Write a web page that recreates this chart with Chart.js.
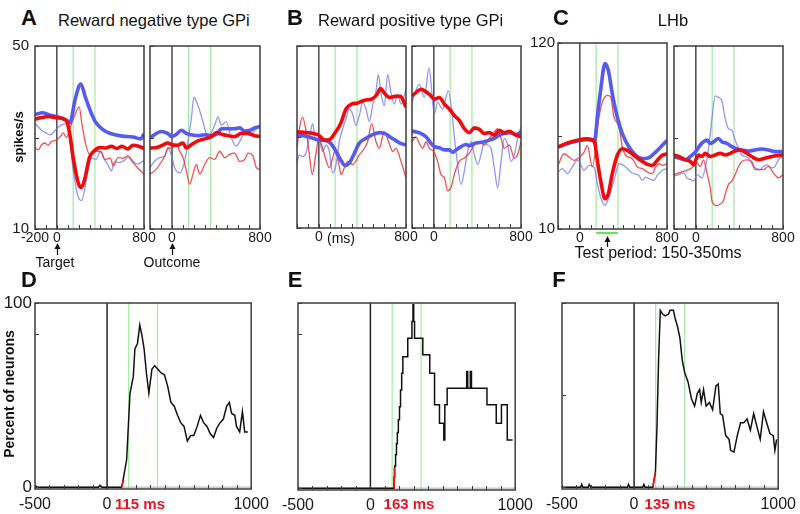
<!DOCTYPE html>
<html>
<head>
<meta charset="utf-8">
<script src="https://cdn.jsdelivr.net/npm/chart.js@4.4.0/dist/chart.umd.min.js"></script>
<style>
body{margin:0;background:#fff;width:800px;height:514px;position:relative;overflow:hidden;font-family:'Liberation Sans',Arial,sans-serif;}
canvas{position:absolute;}
.t{position:absolute;white-space:nowrap;color:#111;line-height:1;}
</style>
</head>
<body>
<script>
// time markers (ms)
const markTimes = [0, 150, 350];

// ---- A: reward negative GPi (spikes/s) ----
const a1ThickBlueT = [-200,-130,-50,0,100,120,170,220,260,300,350,400,450,500,600,700,770,800];
const a1ThickBlueV = [35.0,35.4,34.8,34.6,33.6,33.3,38.5,41.7,39.0,36.3,33.6,32.2,31.3,30.8,30.3,30.1,29.7,30.8];
const a1ThickRedT = [-200,-150,-80,0,60,90,120,150,200,225,255,300,340,400,450,500,550,600,650,700,750,800];
const a1ThickRedV = [34.0,34.3,34.6,34.3,34.1,33.6,30.6,25.6,19.8,19.1,20.8,25.6,27.0,27.8,27.7,28.1,27.6,28.1,27.5,28.3,28.1,27.6];
const a1ThinBlueT = [-200,-140,-100,-60,-20,30,80,110,150,190,225,255,290,320,360,400,430,470,500,530,570,620,660,700,740,800];
const a1ThinBlueV = [33.1,31.6,31.0,30.6,31.4,32.6,33.0,31.5,23.0,17.5,16.2,18.5,23.5,25.5,25.2,27.0,25.5,24.0,22.7,24.8,24.5,25.0,25.8,24.8,24.2,25.0];
const a1ThinRedT = [-200,-170,-140,-110,-80,-50,0,30,60,90,120,160,205,230,260,300,330,370,410,440,490,520,560,610,650,690,740,800];
const a1ThinRedV = [27.7,27.3,28.4,28.8,28.3,29.1,29.5,30.2,31.0,30.0,32.0,34.5,36.7,33.0,29.1,26.3,26.8,27.0,26.8,25.2,25.5,23.8,25.6,25.5,26.0,24.8,23.4,22.0];

const a2ThickBlueT = [-200,-160,-100,-40,0,40,85,130,175,240,300,360,405,450,510,570,615,660,710,750,800];
const a2ThickBlueV = [29.9,30.6,31.3,30.9,30.2,30.7,31.6,30.9,30.6,30.4,30.6,30.4,30.7,31.9,31.9,31.9,32.1,31.4,31.6,32.1,32.4];
const a2ThickRedT = [-200,-140,-80,-40,0,50,100,130,175,240,300,360,405,450,510,570,630,690,750,800];
const a2ThickRedV = [27.7,27.8,28.4,28.8,28.4,28.3,28.8,27.7,28.4,29.3,29.7,30.2,31.1,30.7,30.4,30.2,30.9,30.9,30.4,30.2];
const a2ThinBlueT = [-200,-158,-112,-67,-36,0,24,70,115,145,176,200,236,282,312,342,388,418,448,494,539,585,615,661,706,752,800];
const a2ThinBlueV = [23.4,24.8,25.6,25.9,27.7,25.6,23.4,22.3,24.8,29.1,34.2,38.8,37.0,33.4,30.9,30.6,32.7,34.5,32.7,33.4,29.9,28.1,29.1,30.9,30.6,31.6,32.7];
const a2ThinRedT = [-200,-158,-112,-67,-36,0,39,70,100,130,161,191,221,252,297,342,388,433,479,524,570,615,661,691,736,767,800];
const a2ThinRedV = [22.0,22.7,24.1,25.9,27.7,27.7,28.4,27.0,25.6,22.7,19.8,22.0,24.1,22.0,24.1,25.6,25.2,27.0,25.6,26.3,26.6,24.8,25.2,26.6,26.0,23.4,23.0];

// ---- B: reward positive GPi (no y labels, arbitrary 0-100) ----
const b1ThickRedT = [-200,-120,-50,0,50,95,140,200,250,300,350,420,490,535,565,610,650,700,750,800];
const b1ThickRedV = [52.8,52.4,51.9,51.0,48.3,48.5,51.5,57.3,65.4,68.1,68.6,70.2,71.0,73.5,76.6,73.5,71.7,72.3,72.3,66.3];
const b1ThickBlueT = [-200,-130,-60,0,50,110,150,200,240,280,320,370,430,490,560,620,650,700,750,800];
const b1ThickBlueV = [51.0,50.5,49.5,48.3,48.3,46.5,42.9,37.5,34.4,35.7,40.2,46.5,49.2,51.2,52.4,51.5,50.1,48.3,46.5,45.6];
const b1ThinRedT = [-200,-178,-150,-120,-90,-60,-30,0,35,65,97,127,150,188,204,234,265,310,372,418,448,485,525,555,600,640,678,708,754,800];
const b1ThinRedV = [43.8,54.6,60.9,54.6,42.0,29.4,39.3,49.2,43.8,37.5,33.0,38.4,43.0,33.9,29.4,33.0,36.6,34.8,40.2,43.8,47.4,57.3,47.4,43.8,52.8,47.4,42.0,43.8,36.6,27.6];
const b1ThinBlueT = [-200,-179,-148,-117,-87,-56,-35,-1,35,66,97,127,158,188,219,250,280,310,341,372,403,433,463,494,525,546,570,601,632,662,693,723,754,800];
const b1ThinBlueV = [35.7,40.2,39.3,41.1,49.2,57.3,49.2,49.2,42.0,45.6,42.0,30.3,34.8,47.4,54.6,60.0,65.4,62.7,56.4,61.8,69.0,65.4,58.5,67.2,75.3,84.3,74.4,67.2,84.3,74.4,68.1,73.5,68.1,76.2];

const b2ThickRedT = [-200,-164,-117,-71,-26,5,51,97,143,188,234,280,326,372,418,463,509,555,601,647,693,754,800];
const b2ThickRedV = [72.6,74.4,76.2,74.8,72.6,70.8,71.7,68.1,65.4,61.8,59.1,54.6,52.4,55.0,54.2,51.9,52.4,51.0,53.7,52.4,53.2,51.0,50.1];
const b2ThickBlueT = [-200,-164,-117,-71,-26,5,51,97,143,173,204,250,295,326,372,418,463,509,555,601,647,693,754,800];
const b2ThickBlueV = [53.2,52.8,51.9,50.1,46.5,44.7,44.1,42.9,42.9,41.6,42.9,44.7,45.9,45.2,46.5,47.0,47.4,48.3,49.2,51.0,51.9,52.4,51.4,52.8];
const b2ThinBlueT = [-200,-133,-87,-44,5,35,81,133,204,250,280,310,341,372,403,433,463,494,525,555,586,617,647,678,708,739,769,800];
const b2ThinBlueV = [69.0,78.9,71.7,87.9,62.7,69.0,65.4,75.3,42.0,24.0,31.2,42.0,47.4,40.2,34.8,40.2,47.4,45.6,43.8,33.0,22.2,36.6,49.2,45.6,36.6,40.2,49.2,55.5];
const b2ThinRedT = [-200,-164,-133,-102,-71,-41,-1,35,66,97,127,158,188,234,280,326,372,418,463,509,555,586,617,647,693,739,769,800];
const b2ThinRedV = [47.4,50.1,46.5,43.8,47.4,43.8,42.0,36.6,29.4,27.6,20.4,22.2,29.4,36.6,38.4,41.1,45.6,47.4,45.6,49.2,52.8,54.6,49.2,43.8,45.6,38.4,40.2,47.4];

// ---- C: LHb (spikes/s, 10-120) ----
const c1ThickBlueT = [-200,-130,-69,-1,70,115,139,161,191,231,262,298,344,390,451,513,574,635,696,757,800];
const c1ThickBlueV = [58.5,60.1,61.4,62.4,62.8,62.4,63.4,76.2,92.0,107.8,103.8,90.0,76.2,66.4,58.5,53.6,51.6,52.2,55.5,59.5,62.4];
const c1ThickRedT = [-200,-130,-69,-1,54,115,139,161,191,231,262,298,344,390,436,497,558,620,665,711,757,800];
const c1ThickRedV = [58.5,60.5,61.8,62.8,63.4,62.8,60.5,50.6,38.8,27.9,30.9,42.7,53.6,57.5,56.5,53.6,50.6,48.2,47.6,50.6,53.6,54.5];
const c1ThinRedT = [-200,-145,-99,-53,-1,39,69,115,176,207,253,283,314,360,390,421,482,528,574,620,665,696,727,757,800];
const c1ThinRedV = [47.6,54.5,52.6,50.6,52.6,55.5,59.5,46.7,76.2,85.1,89.0,88.1,76.2,70.3,58.5,53.6,51.6,46.7,45.7,43.7,42.7,46.7,48.6,47.6,48.6];
const c1ThinBlueT = [-200,-160,-114,-69,-23,-1,39,84,130,161,191,231,268,314,360,421,467,497,543,574,604,635,681,711,757,800];
const c1ThinBlueV = [43.7,45.7,42.7,46.7,50.6,49.6,44.7,47.6,46.7,36.8,28.9,24.0,28.9,38.8,48.6,46.7,43.7,42.7,41.7,38.8,40.7,39.8,38.8,41.7,44.7,45.7];

const c2ThickBlueT = [-200,-157,-96,-50,-1,41,71,102,132,163,209,239,285,331,377,422,483,544,605,666,727,800];
const c2ThickBlueV = [53.6,52.6,51.6,53.6,56.5,60.5,62.4,63.4,61.4,62.4,64.4,62.4,61.4,59.5,58.1,57.5,56.9,57.5,58.1,57.5,56.5,56.5];
const c2ThickRedT = [-200,-157,-96,-50,-20,1,26,56,87,132,178,224,270,316,361,407,453,514,575,636,697,758,800];
const c2ThickRedV = [54.5,53.6,51.6,50.6,48.6,51.6,54.5,53.6,55.5,53.6,54.5,55.5,54.5,55.5,56.9,57.5,56.1,53.6,51.6,52.6,53.6,54.2,54.5];
const c2ThinBlueT = [-200,-157,-111,-81,-50,-20,11,56,87,117,148,178,209,239,270,300,331,361,392,422,453,483,529,590,620,651,697,727,758,800];
const c2ThinBlueV = [41.7,42.7,43.7,40.7,39.8,38.8,42.7,40.7,46.7,58.5,76.2,90.0,89.0,87.1,76.2,70.3,69.3,63.4,58.5,54.5,53.6,52.6,47.6,45.7,47.6,48.6,46.7,47.6,51.6,53.6];
const c2ThinRedT = [-200,-157,-111,-66,-20,11,41,71,102,132,148,163,193,224,254,270,300,331,361,392,422,468,514,544,590,620,666,712,758,800];
const c2ThinRedV = [42.7,43.7,44.7,45.7,47.6,49.6,47.6,51.6,43.7,34.8,27.0,25.0,24.0,25.0,27.0,30.9,36.8,38.8,42.7,47.6,50.6,51.6,50.6,45.7,45.7,45.7,47.6,43.7,40.7,42.7];

// ---- D-F: percent of neurons ----
const dT = [-500,-485,-60,-50,-35,100,107,136,159,182,193,211,227,243,257,273,290,311,330,352,375,398,420,443,466,489,511,534,557,580,602,625,648,670,693,716,739,761,784,807,830,848,864,886,898,920,939,955,977];
const dV = [1,0,0,1,0,0,2,15,51,60,75,78,88,82,75,62,51,64,66,64,62,61,55,46,44,39,35,33,25,28,28,33,39,35,33,29,27,32,35,37,44,46,40,39,33,30,41,30,30];
const dOnsetT = [100, 115];
const dOnsetV = [0, 4];

const eT = [-500,163,168,174,180,186,193,201,208,216,224,258,287,294,299,305,362,410,443,477,507,514,530,665,672,690,698,805,869,905,945,982];
const eV = [0,6,12,18,24,30,37,44,53,62,71,81,90,99,90,81,72,62,45,35,26,45,54,63,54,63,54,45,35,45,26,26];
const eOnsetT = [163, 165];
const eOnsetV = [0, 11];

const fT = [-500,-370,-364,-355,-318,-311,-300,-45,-39,-30,60,68,76,130,148,159,170,182,198,216,239,250,273,284,302,318,334,352,375,398,420,439,455,466,482,500,523,545,568,584,598,614,636,659,670,693,716,739,761,784,807,830,852,875,898,920,943,966,977,989];
const fV = [0,0,1.5,0,0,1.5,0,0,1.5,0,0,1.5,0,0,8,33,69,96,94,93,94,96,96,92,87,81,69,62,57,48,44,51,53,46,53,44,46,42,55,56,40,39,28,26,20,19,28,35,35,37,31,40,33,26,41,35,29,28,20,26];
const fOnsetT = [130, 148];
const fOnsetV = [0, 8];

const FONT = "'Liberation Sans', Arial, sans-serif";
const THICK_BLUE = 'rgb(85,90,240)';
const THIN_BLUE = 'rgba(110,115,245,0.75)';
const THICK_RED = 'rgb(240,10,10)';
const THIN_RED = 'rgba(238,50,50,0.85)';
const GREEN = 'rgb(165,232,165)';

const pts = (t, v) => t.map((x, i) => ({x, y: v[i]}));
const curve = (t, v, color, w) => ({data: pts(t, v), borderColor: color, borderWidth: w, pointRadius: 0,
  cubicInterpolationMode: 'monotone', fill: false});
const step = (t, v, color, w, stepped) => ({data: pts(t, v), borderColor: color, borderWidth: w, pointRadius: 0,
  tension: 0, stepped: stepped, fill: false});
const vline = (x, lo, hi, color, w) => ({data: [{x, y: lo}, {x, y: hi}], borderColor: color, borderWidth: w, pointRadius: 0});

// box frame, inward ticks, arrows and test bar
const frame = {
  id: 'frame',
  afterDatasetsDraw(chart, args, o) {
    const {ctx, chartArea: a, scales: {x, y}} = chart;
    ctx.save();
    ctx.strokeStyle = '#3c3c3c';
    ctx.lineWidth = 1.5;
    ctx.strokeRect(a.left, a.top, a.right - a.left, a.bottom - a.top);
    ctx.lineWidth = 1;
    ctx.beginPath();
    x.ticks.forEach(t => {
      const px = Math.round(x.getPixelForValue(t.value)) + 0.5;
      ctx.moveTo(px, a.bottom); ctx.lineTo(px, a.bottom - 4);
    });
    y.ticks.forEach(t => {
      const py = Math.round(y.getPixelForValue(t.value)) + 0.5;
      ctx.moveTo(a.left, py); ctx.lineTo(a.left + 4, py);
    });
    ctx.stroke();
    if (o.bar) {
      ctx.strokeStyle = 'rgb(90,235,80)';
      ctx.lineWidth = 2;
      ctx.beginPath();
      ctx.moveTo(x.getPixelForValue(o.bar[0]), a.bottom + o.barOff);
      ctx.lineTo(x.getPixelForValue(o.bar[1]), a.bottom + o.barOff);
      ctx.stroke();
    }
    if (o.arrowAt !== undefined) {
      const px = Math.round(x.getPixelForValue(o.arrowAt)) + 0.5;
      const y0 = a.bottom + o.arrowTop;
      ctx.strokeStyle = '#111';
      ctx.fillStyle = '#111';
      ctx.lineWidth = 1.2;
      ctx.beginPath();
      ctx.moveTo(px, y0 + 4); ctx.lineTo(px, y0 + o.arrowLen);
      ctx.stroke();
      ctx.beginPath();
      ctx.moveTo(px, y0); ctx.lineTo(px - 3, y0 + 6); ctx.lineTo(px + 3, y0 + 6);
      ctx.closePath();
      ctx.fill();
    }
    ctx.restore();
  }
};

function panel(box, o) {
  const PL = o.pl, PR = o.pr, PT = o.pt, PB = o.pb;
  const c = document.createElement('canvas');
  c.width = box[2] - box[0] + PL + PR;
  c.height = box[3] - box[1] + PT + PB;
  c.style.left = (box[0] - PL) + 'px';
  c.style.top = (box[1] - PT) + 'px';
  document.body.appendChild(c);
  new Chart(c, {
    type: 'line',
    data: {datasets: o.datasets},
    options: {
      responsive: false,
      animation: false,
      events: [],
      layout: {padding: {top: PT, right: PR, left: 0, bottom: 0}},
      plugins: {legend: {display: false}, tooltip: {enabled: false}, frame: o.frame || {}},
      scales: {
        x: {
          type: 'linear', min: o.xmin, max: o.xmax,
          grid: {display: false, drawTicks: false}, border: {display: false},
          afterFit: s => { s.height = PB; },
          afterBuildTicks: s => { s.ticks = o.xTicks.map(v => ({value: v})); },
          ticks: {autoSkip: false, maxRotation: 0, padding: o.xpad, color: '#1a1a1a',
            font: {family: FONT, size: o.fs},
            callback: v => o.xLabels.includes(v) ? String(v) : ''}
        },
        y: {
          type: 'linear', min: o.ymin, max: o.ymax,
          grid: {display: false, drawTicks: false}, border: {display: false},
          afterFit: s => { s.width = PL; },
          afterBuildTicks: s => { s.ticks = o.yTicks.map(v => ({value: v})); },
          ticks: {padding: o.ypad, color: '#1a1a1a', font: {family: FONT, size: o.fs + 1},
            callback: v => o.yLabels.includes(v) ? String(v) : ''}
        }
      }
    },
    plugins: [frame]
  });
}

const topTicks = [-200,-100,0,100,200,300,400,500,600,700,800];
const botTicks = [-500,-400,-300,-200,-100,0,100,200,300,400,500,600,700,800,900,1000];

function topSets(tr, tb, nr, nb, lo, hi) {
  return [
    curve(tr[0], tr[1], THICK_RED, 3.6),
    curve(tb[0], tb[1], THICK_BLUE, 3.6),
    curve(nr[0], nr[1], THIN_RED, 1.3),
    curve(nb[0], nb[1], THIN_BLUE, 1.3),
    vline(markTimes[0], lo, hi, 'rgb(85,85,85)', 1.6),
    vline(markTimes[1], lo, hi, GREEN, 1.2),
    vline(markTimes[2], lo, hi, GREEN, 1.2)
  ];
}
function topPanel(box, sets, extra) {
  panel(box, Object.assign({pl: 34, pr: 16, pt: 12, pb: 30, xmin: -200, xmax: 800, xTicks: topTicks,
    xLabels: [0, 800], fs: 14, xpad: 1, ypad: 6, yLabels: [], datasets: sets}, extra));
}

// A
topPanel([35, 43, 144, 229], topSets([a1ThickRedT, a1ThickRedV], [a1ThickBlueT, a1ThickBlueV],
  [a1ThinRedT, a1ThinRedV], [a1ThinBlueT, a1ThinBlueV], 10, 50),
  {ymin: 10, ymax: 50, yTicks: [10, 30, 50], yLabels: [10, 50], xLabels: [-200, 0, 800],
   frame: {arrowAt: 0, arrowTop: 14, arrowLen: 12}});
topPanel([150, 43, 260, 229], topSets([a2ThickRedT, a2ThickRedV], [a2ThickBlueT, a2ThickBlueV],
  [a2ThinRedT, a2ThinRedV], [a2ThinBlueT, a2ThinBlueV], 10, 50),
  {ymin: 10, ymax: 50, yTicks: [10, 30, 50], frame: {arrowAt: 0, arrowTop: 14, arrowLen: 12}});
// B
topPanel([297, 43, 406, 228], topSets([b1ThickRedT, b1ThickRedV], [b1ThickBlueT, b1ThickBlueV],
  [b1ThinRedT, b1ThinRedV], [b1ThinBlueT, b1ThinBlueV], 0, 100),
  {ymin: 0, ymax: 100, yTicks: [0, 50, 100]});
topPanel([412, 43, 521, 228], topSets([b2ThickRedT, b2ThickRedV], [b2ThickBlueT, b2ThickBlueV],
  [b2ThinRedT, b2ThinRedV], [b2ThinBlueT, b2ThinBlueV], 0, 100),
  {ymin: 0, ymax: 100, yTicks: [0, 50, 100]});
// C
topPanel([558, 43, 667, 229], topSets([c1ThickRedT, c1ThickRedV], [c1ThickBlueT, c1ThickBlueV],
  [c1ThinRedT, c1ThinRedV], [c1ThinBlueT, c1ThinBlueV], 10, 120),
  {ymin: 10, ymax: 120, yTicks: [10, 65, 120], yLabels: [10, 120], ypad: 3,
   frame: {bar: [150, 350], barOff: 4, arrowAt: 250, arrowTop: 7, arrowLen: 11}});
topPanel([674, 43, 783, 229], topSets([c2ThickRedT, c2ThickRedV], [c2ThickBlueT, c2ThickBlueV],
  [c2ThinRedT, c2ThinRedV], [c2ThinBlueT, c2ThinBlueV], 10, 120),
  {ymin: 10, ymax: 120, yTicks: [10, 65, 120]});

// D-F
function botPanel(box, t, v, onT, onV, stepped, yTicks, yLabels) {
  const sets = [
    step(onT, onV, 'rgb(235,20,20)', 1.5, false),
    step(t, v, '#111', 1.5, stepped),
    step([-500, 1000], [0, 0], 'rgb(175,175,175)', 1, false),
    vline(markTimes[0], -1, 100, '#222', 1.5),
    vline(markTimes[1], -1, 100, GREEN, 1.2),
    vline(markTimes[2], -1, 100, GREEN, 1.2)
  ];
  panel(box, {pl: 34, pr: 20, pt: 16, pb: 24, xmin: -500, xmax: 1000, xTicks: botTicks, xLabels: [-500, 0, 1000],
    ymin: -1, ymax: 100, yTicks, yLabels, fs: 16, xpad: 6, ypad: 3, datasets: sets});
}
botPanel([35, 303, 255, 489], dT, dV, dOnsetT, dOnsetV, false, [0, 83, 100], [0, 100]);
botPanel([298, 303, 519, 490], eT, eV, eOnsetT, eOnsetV, 'before', [0, 83, 100], []);
botPanel([562, 303, 782, 489], fT, fV, fOnsetT, fOnsetV, false, [0, 50, 100], []);

// text
function text(str, x, y, css, anchor) {
  const d = document.createElement('div');
  d.className = 't';
  d.textContent = str;
  d.style.cssText += css;
  d.style.left = x + 'px';
  d.style.top = y + 'px';
  d.style.transform = anchor === 'left' ? 'translate(0,-50%)' : 'translate(-50%,-50%)';
  document.body.appendChild(d);
  return d;
}
const big = 'font-weight:bold;font-size:22px;';
text('A', 29, 18, big);
text('Reward negative type GPi', 58, 20, 'font-size:16.5px;', 'left');
text('B', 295, 18, big);
text('Reward positive type GPi', 318, 20, 'font-size:16.5px;', 'left');
text('C', 561, 18, big);
text('LHb', 673, 20, 'font-size:16.5px;');
text('Target', 55, 262, 'font-size:14px;');
text('Outcome', 172, 262, 'font-size:14px;');
text('(ms)', 327, 238, 'font-size:14px;', 'left');
text('Test period: 150-350ms', 658, 253, 'font-size:16px;');
text('D', 29, 280, big);
text('E', 295, 280, big);
text('F', 559, 280, big);
const red = 'color:rgb(232,20,30);font-weight:bold;font-size:15px;';
text('115 ms', 140, 503, red);
text('163 ms', 409, 503, red);
text('135 ms', 670, 503, red);
const yl1 = text('spikes/s', 18, 137, 'font-weight:bold;font-size:13px;');
yl1.style.transform = 'translate(-50%,-50%) rotate(-90deg)';
const yl2 = text('Percent of neurons', 9, 394, 'font-weight:bold;font-size:14px;');
yl2.style.transform = 'translate(-50%,-50%) rotate(-90deg)';
</script>
</body>
</html>
